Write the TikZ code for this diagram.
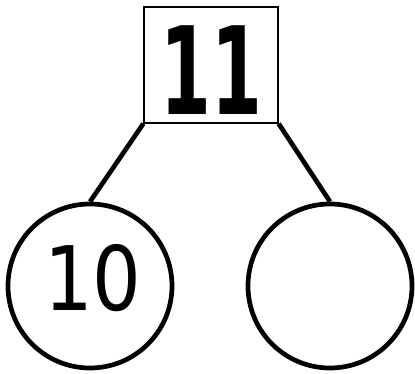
\documentclass[tikz,border=0pt]{standalone}
\usepackage{fontspec}
\usepackage{graphicx}
\newfontfamily\digitfont{DejaVu Sans}
\usetikzlibrary{positioning}

\begin{document}
\begin{tikzpicture}[
    x=0.03cm, y=-0.03cm,
    wholebox/.style={draw, line width=1.1pt, minimum width=4.02cm, minimum height=3.48cm, inner sep=0pt},
    partcircle/.style={draw, circle, line width=4pt, minimum size=4.92cm, inner sep=0pt},
    bond/.style={line width=4pt}
]
\useasboundingbox (0,0) rectangle (415,374);

% --- Whole ---
\node[wholebox] (whole) at (211,65)
    {\raisebox{-4.5pt}[\height][0pt]{\scalebox{0.6}[1]{\digitfont\bfseries\fontsize{104}{104}\selectfont 11}}};

% --- Parts ---
\node[partcircle] (partA) at (90,286)
    {\hspace*{5pt}\raisebox{7pt}[\height][0pt]{\scalebox{0.86}[1]{\digitfont\fontsize{76}{76}\selectfont 10}}};
\node[partcircle] (partB) at (330,286) {};

% --- Bonds ---
\draw[bond] (whole.south west) -- (partA.north);
\draw[bond] (whole.south east) -- (partB.north);

\end{tikzpicture}
\end{document}
